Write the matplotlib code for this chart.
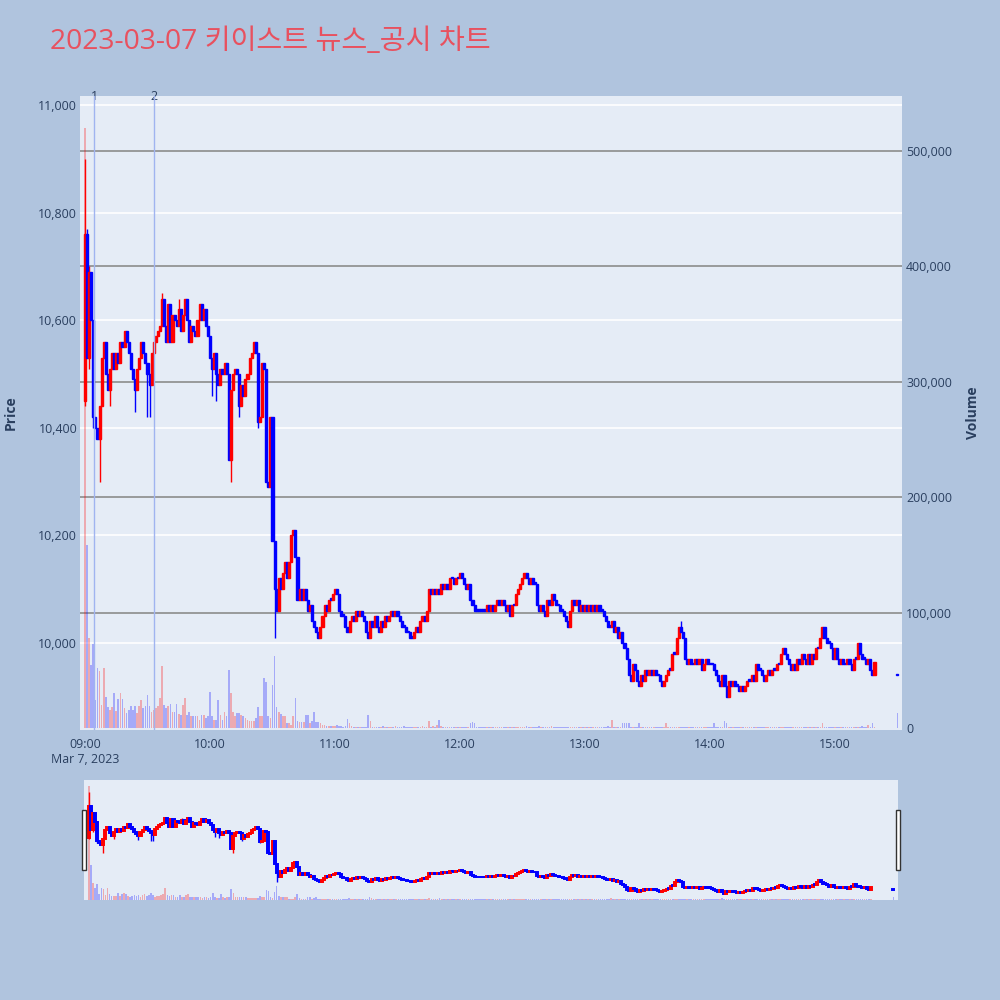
import matplotlib
matplotlib.use("Agg")
import matplotlib.pyplot as plt
from matplotlib.patches import Rectangle
from matplotlib.ticker import FuncFormatter
import numpy as np

plt.rcParams['font.family'] = ['Open Sans', 'Noto Sans CJK KR', 'DejaVu Sans']

# =====================================================
# DATA (1-minute candles, 09:00 ~ 15:19, plus 15:30 auction)
# =====================================================

TITLE = "2023-03-07 키이스트 뉴스_공시 차트"

first_open = 10450

closes = [
    10760, 10530, 10690, 10600, 10420, 10400, 10380, 10440, 10530, 10560,
    10500, 10470, 10510, 10540, 10510, 10540, 10520, 10560, 10550, 10580,
    10560, 10540, 10510, 10490, 10470, 10510, 10530, 10560, 10540, 10520,
    10500, 10480, 10540, 10560, 10570, 10580, 10590, 10640, 10590, 10560,
    10630, 10560, 10610, 10600, 10590, 10620, 10580, 10610, 10640, 10600,
    10560, 10590, 10580, 10570, 10600, 10630, 10600, 10620, 10590, 10570,
    10530, 10510, 10540, 10500, 10480, 10510, 10500, 10520, 10500, 10340,
    10470, 10500, 10510, 10500, 10440, 10480, 10460, 10490, 10500, 10530,
    10540, 10560, 10540, 10410, 10420, 10520, 10510, 10300, 10290, 10420,
    10190, 10100, 10060, 10120, 10100, 10130, 10150, 10120, 10150, 10200,
    10210, 10160, 10080, 10100, 10080, 10100, 10080, 10060, 10070, 10040,
    10030, 10020, 10010, 10030, 10050, 10070, 10060, 10080, 10080, 10090,
    10100, 10090, 10060, 10050, 10050, 10030, 10020, 10040, 10050, 10040,
    10060, 10050, 10060, 10050, 10040, 10020, 10010, 10040, 10030, 10050,
    10030, 10020, 10040, 10030, 10050, 10040, 10050, 10060, 10050, 10060,
    10050, 10040, 10030, 10030, 10020, 10020, 10010, 10010, 10020, 10030,
    10020, 10040, 10050, 10040, 10060, 10100, 10090, 10100, 10090, 10100,
    10090, 10110, 10100, 10110, 10100, 10120, 10120, 10110, 10120, 10120,
    10130, 10120, 10110, 10100, 10110, 10080, 10070, 10060, 10060, 10060,
    10060, 10060, 10060, 10070, 10060, 10070, 10060, 10070, 10080, 10070,
    10080, 10070, 10060, 10070, 10050, 10070, 10070, 10090, 10100, 10110,
    10120, 10130, 10120, 10110, 10120, 10110, 10110, 10070, 10060, 10070,
    10060, 10050, 10080, 10070, 10090, 10080, 10070, 10070, 10060, 10060,
    10050, 10040, 10030, 10060, 10080, 10070, 10080, 10060, 10070, 10060,
    10070, 10060, 10070, 10060, 10070, 10060, 10070, 10060, 10060, 10050,
    10040, 10030, 10030, 10040, 10020, 10030, 10010, 10020, 10000, 9990,
    9970, 9940, 9930, 9960, 9950, 9930, 9920, 9940, 9930, 9950,
    9940, 9950, 9940, 9950, 9940, 9940, 9930, 9920, 9930, 9940,
    9950, 9950, 9980, 9980, 10010, 10030, 10020, 10010, 9970, 9960,
    9970, 9960, 9960, 9970, 9960, 9970, 9950, 9960, 9970, 9960,
    9960, 9960, 9950, 9940, 9930, 9920, 9940, 9920, 9900, 9930,
    9920, 9930, 9920, 9920, 9910, 9920, 9910, 9920, 9930, 9930,
    9940, 9930, 9960, 9950, 9950, 9940, 9930, 9940, 9950, 9940,
    9950, 9950, 9960, 9960, 9980, 9990, 9980, 9970, 9960, 9950,
    9960, 9950, 9970, 9960, 9980, 9970, 9960, 9980, 9960, 9980,
    9970, 9990, 9990, 10010, 10030, 10010, 10000, 10000, 9990, 9970,
    9990, 9970, 9960, 9970, 9960, 9960, 9970, 9960, 9950, 9970,
    9970, 10000, 9980, 9970, 9970, 9960, 9970, 9950, 9940, 9965,
]

# volume in thousands of shares
volumes_k = [
    520, 159, 78, 55, 73, 24, 52, 49, 20, 52,
    27, 18, 16, 18, 30, 15, 25, 30, 25, 17,
    13, 16, 19, 16, 19, 13, 19, 24, 17, 19,
    29, 19, 14, 16, 17, 19, 26, 54, 20, 17,
    19, 21, 14, 14, 21, 12, 11, 20, 26, 11,
    14, 10, 10, 10, 10, 7, 11, 11, 9, 10,
    31, 10, 7, 7, 24, 11, 7, 14, 10, 50,
    30, 14, 10, 13, 13, 11, 10, 9, 7, 6,
    6, 6, 9, 18, 10, 10, 43, 40, 10, 9,
    37, 62, 18, 14, 12, 10, 10, 4, 4, 3,
    10, 26, 6, 5, 5, 5, 11, 11, 4, 6,
    14, 5, 5, 4, 3, 3, 2, 2, 2, 2,
    2, 3, 2, 2, 1, 2, 8, 4, 2, 1,
    1, 1, 1, 1, 1, 1, 11, 6, 1, 1,
    1, 1, 1, 2, 1, 1, 1, 1, 1, 2,
    1, 1, 1, 2, 1, 1, 1, 1, 1, 1,
    1, 1, 2, 1, 1, 6, 1, 2, 1, 3,
    7, 2, 1, 1, 1, 1, 1, 1, 1, 1,
    1, 1, 1, 1, 1, 4, 5, 4, 1, 1,
    1, 1, 1, 1, 1, 1, 1, 1, 1, 1,
    1, 1, 1, 1, 1, 1, 1, 1, 1, 1,
    1, 1, 2, 1, 1, 1, 1, 1, 2, 1,
    1, 1, 1, 1, 2, 1, 1, 1, 1, 1,
    1, 1, 1, 1, 1, 1, 1, 1, 1, 1,
    1, 1, 1, 1, 1, 1, 1, 1, 1, 1,
    1, 2, 1, 7, 1, 1, 1, 1, 4, 4,
    4, 4, 1, 1, 1, 1, 4, 1, 1, 1,
    1, 1, 1, 1, 1, 1, 1, 1, 1, 4,
    1, 1, 1, 1, 1, 1, 1, 1, 1, 1,
    1, 1, 1, 1, 1, 1, 1, 1, 1, 1,
    1, 1, 4, 1, 1, 1, 1, 6, 4, 1,
    1, 1, 1, 1, 1, 1, 1, 1, 1, 1,
    1, 1, 1, 1, 1, 1, 1, 1, 1, 1,
    1, 1, 1, 1, 1, 1, 1, 1, 1, 1,
    1, 1, 1, 1, 1, 1, 1, 1, 1, 1,
    1, 1, 1, 1, 4, 1, 1, 1, 1, 1,
    1, 1, 1, 1, 1, 1, 1, 1, 1, 1,
    1, 1, 1, 2, 1, 1, 3, 1, 4, 1,
]

# (minute, low, high) for candles with visible wicks
wicks = [
    (0, 10440, 10900), (1, 10530, 10770), (2, 10510, 10700), (4, 10400, 10600),
    (7, 10300, 10440), (12, 10440, 10510), (24, 10430, 10490), (30, 10420, 10520),
    (31, 10420, 10500), (37, 10590, 10650), (45, 10590, 10640), (61, 10460, 10530),
    (63, 10450, 10540), (70, 10300, 10470), (74, 10420, 10500), (83, 10400, 10540),
    (88, 10290, 10300), (91, 10010, 10190), (100, 10200, 10210), (112, 10010, 10020),
    (211, 10120, 10130), (286, 10020, 10040), (308, 9900, 9920), (354, 10010, 10030),
]

auction_minute = 390
auction_price = 9940
auction_volume_k = 13

news_minutes = [4.5, 33.3]
news_labels = ['1', '2']

hour_ticks = [0, 60, 120, 180, 240, 300, 360]
hour_labels = ['09:00\nMar 7, 2023', '10:00', '11:00', '12:00', '13:00', '14:00', '15:00']

price_ticks = [10000, 10200, 10400, 10600, 10800, 11000]
volume_ticks = [0, 100000, 200000, 300000, 400000, 500000]

# =====================================================
# BUILD OHLC
# =====================================================

c = np.array(closes + [auction_price], dtype=float)
o = np.r_[first_open, closes[:-1], auction_price].astype(float)
x = np.r_[np.arange(len(closes)), auction_minute].astype(float)
hi = np.maximum(o, c)
lo = np.minimum(o, c)
for m, wl, wh in wicks:
    lo[m] = min(lo[m], wl)
    hi[m] = max(hi[m], wh)
vol = np.array(volumes_k + [auction_volume_k], dtype=float) * 1000

up = c > o
col = np.where(up, '#FF0000', '#0000FF')

XLIM = (-2.4, 392.2)
PLIM = (9838, 11017)
VLIM = (-1700, 547600)

BG = '#B0C4DE'
PLOT_BG = '#E5ECF6'
TXT = '#2A3F5F'


def draw_traces(axv, axp, lw, body_w):
    axv.bar(x, vol, width=0.8, color=col, alpha=0.28, linewidth=0, zorder=2)
    axp.vlines(x, lo, hi, colors=col, linewidth=1.0, zorder=3)
    body_h = np.maximum(np.abs(c - o), 3)
    axp.bar(x, body_h, bottom=np.minimum(o, c), width=body_w, color=col,
            edgecolor=col, linewidth=lw, zorder=4)


fig = plt.figure(figsize=(10, 10), dpi=100)
fig.patch.set_facecolor(BG)

# =====================================================
# MAIN CHART
# =====================================================

axv = fig.add_axes([0.08, 0.27, 0.822, 0.634])
axv.set_facecolor(PLOT_BG)
axp = axv.twinx()

for a in (axv, axp):
    for s in a.spines.values():
        s.set_visible(False)
    a.set_xlim(*XLIM)

axv.set_ylim(*VLIM)
axp.set_ylim(*PLIM)

# price grid (white) and volume grid (gray), both under the traces
for p in price_ticks:
    f = (p - PLIM[0]) / (PLIM[1] - PLIM[0])
    axv.plot([0, 1], [f, f], transform=axv.transAxes, color='white', lw=1.2, zorder=0.5)
for v in volume_ticks[1:]:
    axv.axhline(v, color='#8C8C8C', lw=1.2, zorder=0.6)

draw_traces(axv, axp, lw=1.0, body_w=1.0)

for m, lab in zip(news_minutes, news_labels):
    axp.axvline(m, color='#A0B4F0', lw=1, zorder=5)
    axp.text(m, 0.999, lab, transform=axp.get_xaxis_transform(), ha='center', va='center',
             fontsize=9, color=TXT)

axv.yaxis.tick_right()
axp.yaxis.tick_left()
axv.set_yticks(volume_ticks)
axp.set_yticks(price_ticks)
axv.yaxis.set_major_formatter(FuncFormatter(lambda v, _: f"{int(v):,}"))
axp.yaxis.set_major_formatter(FuncFormatter(lambda v, _: f"{int(v):,}"))
axv.tick_params(axis='y', length=0, pad=3, labelsize=8.9, labelcolor=TXT)
axp.tick_params(axis='y', length=0, pad=2, labelsize=8.9, labelcolor=TXT)
axv.set_xticks(hour_ticks)
axv.set_xticklabels(hour_labels, multialignment='center')
axv.tick_params(axis='x', length=0, pad=6, labelsize=8.9, labelcolor=TXT)
axp.tick_params(axis='x', bottom=False, labelbottom=False)

fig.text(0.011, 0.587, 'Price', rotation=90, ha='center', va='center',
         fontsize=10, fontweight='bold', color=TXT)
fig.text(0.973, 0.587, 'Volume', rotation=90, ha='center', va='center',
         fontsize=10, fontweight='bold', color=TXT)

fig.text(0.05, 0.958, TITLE, ha='left', va='center', fontsize=20.3, color='#E8515F')

# =====================================================
# RANGE SLIDER
# =====================================================

asv = fig.add_axes([0.084, 0.10, 0.814, 0.12])
asv.set_facecolor(PLOT_BG)
asp = asv.twinx()
for a in (asv, asp):
    for s in a.spines.values():
        s.set_visible(False)
    a.set_xlim(*XLIM)
    a.set_xticks([])
    a.set_yticks([])
asv.set_ylim(*VLIM)
asp.set_ylim(*PLIM)
draw_traces(asv, asp, lw=1.4, body_w=1.0)

for hx in (0.082, 0.896):
    fig.patches.append(Rectangle((hx, 0.13), 0.004, 0.06, transform=fig.transFigure,
                                 facecolor='white', edgecolor='#333333', lw=1, zorder=10))

fig.savefig('out.png', dpi=100, facecolor=BG)
